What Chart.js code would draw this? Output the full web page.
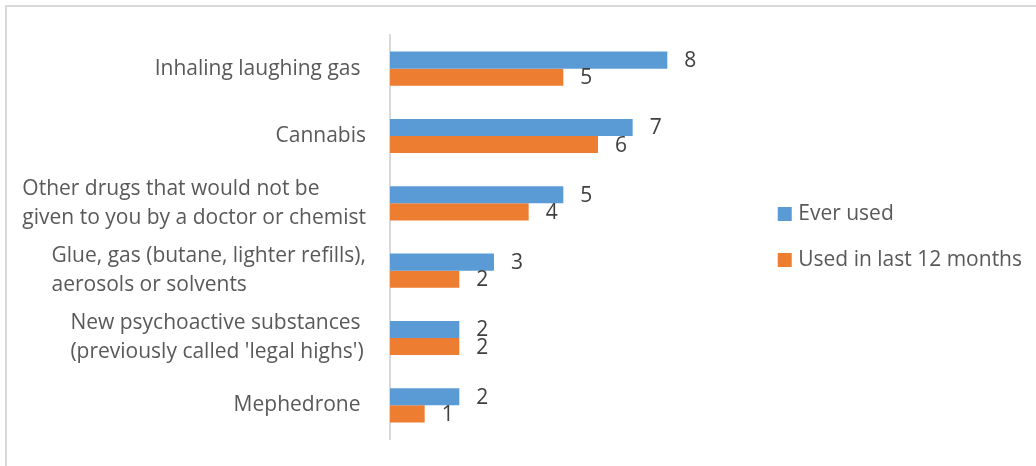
<!DOCTYPE html>
<html><head><meta charset="utf-8">
<script src="https://cdn.jsdelivr.net/npm/chart.js@4/dist/chart.umd.min.js"></script>
<style>html,body{margin:0;padding:0;background:#fff;overflow:hidden}</style>
</head><body>
<canvas id="c" width="1036" height="466"></canvas>
<script>
const categories = [
  ["Inhaling laughing gas "],
  ["Cannabis"],
  ["Other drugs that would not be", "given to you by a doctor or chemist"],
  ["Glue, gas (butane, lighter refills),", "aerosols or solvents"],
  ["New psychoactive substances ", "(previously called 'legal highs')"],
  ["Mephedrone "]
];
const seriesNames = ["Ever used", "Used in last 12 months"];
const everUsed = [8, 7, 5, 3, 2, 2];
const usedLast12 = [5, 6, 4, 2, 2, 1];

const FONT = '"Open Sans", "Liberation Sans", sans-serif';
const FSIZE = 21;

const frame = {
  id: 'frame',
  beforeDraw(chart) {
    const ctx = chart.ctx;
    ctx.save();
    ctx.fillStyle = '#fff';
    ctx.fillRect(0, 0, chart.width, chart.height);
    ctx.strokeStyle = '#d9d9d9';
    ctx.lineWidth = 2;
    ctx.beginPath();
    ctx.moveTo(6, chart.height + 2);
    ctx.lineTo(6, 6);
    ctx.lineTo(chart.width + 2, 6);
    ctx.stroke();
    ctx.restore();
  }
};

const catLabels = {
  id: 'catLabels',
  afterDraw(chart) {
    const ctx = chart.ctx;
    const ys = chart.scales.y;
    ctx.save();
    ctx.font = FSIZE + 'px ' + FONT;
    ctx.fillStyle = '#595959';
    ctx.textAlign = 'left';
    ctx.textBaseline = 'middle';
    const lineH = 29;
    const right = chart.chartArea.left - 24;
    categories.forEach((lines, i) => {
      const w = Math.max(...lines.map(l => ctx.measureText(l).width));
      const x0 = right - w;
      const yc = ys.getPixelForValue(i);
      const y0 = yc - (lines.length - 1) * lineH / 2;
      lines.forEach((l, k) => ctx.fillText(l, x0, y0 + k * lineH));
    });
    ctx.restore();
  }
};

const valueLabels = {
  id: 'valueLabels',
  afterDatasetsDraw(chart) {
    const ctx = chart.ctx;
    ctx.save();
    ctx.font = FSIZE + 'px ' + FONT;
    ctx.fillStyle = '#404040';
    ctx.textAlign = 'left';
    ctx.textBaseline = 'middle';
    chart.data.datasets.forEach((ds, d) => {
      chart.getDatasetMeta(d).data.forEach((bar, i) => {
        ctx.fillText(String(ds.data[i]), bar.x + 17, bar.y + 1);
      });
    });
    ctx.restore();
  }
};

new Chart(document.getElementById('c'), {
  type: 'bar',
  data: {
    labels: categories,
    datasets: [
      { label: seriesNames[0], data: everUsed, backgroundColor: '#5B9BD5', borderWidth: 0 },
      { label: seriesNames[1], data: usedLast12, backgroundColor: '#ED7D31', borderWidth: 0 }
    ]
  },
  options: {
    indexAxis: 'y',
    responsive: false,
    animation: false,
    devicePixelRatio: 1,
    categoryPercentage: 0.507,
    barPercentage: 1,
    layout: { padding: { left: 0, top: 35, right: 4, bottom: 27 } },
    scales: {
      x: { display: false, min: 0, max: 10.58 },
      y: {
        grid: { display: false },
        border: { display: true, color: '#d9d9d9', width: 2 },
        ticks: { display: false },
        afterFit(s) { s.width = 390; }
      }
    },
    plugins: {
      tooltip: { enabled: false },
      legend: {
        position: 'right',
        align: 'center',
        maxWidth: 320,
        labels: {
          usePointStyle: true,
          pointStyle: 'rect',
          boxWidth: 6,
          boxHeight: 14,
          padding: 25,
          color: '#595959',
          font: { family: FONT, size: FSIZE }
        }
      }
    }
  },
  plugins: [frame, catLabels, valueLabels]
});
</script>
</body></html>
